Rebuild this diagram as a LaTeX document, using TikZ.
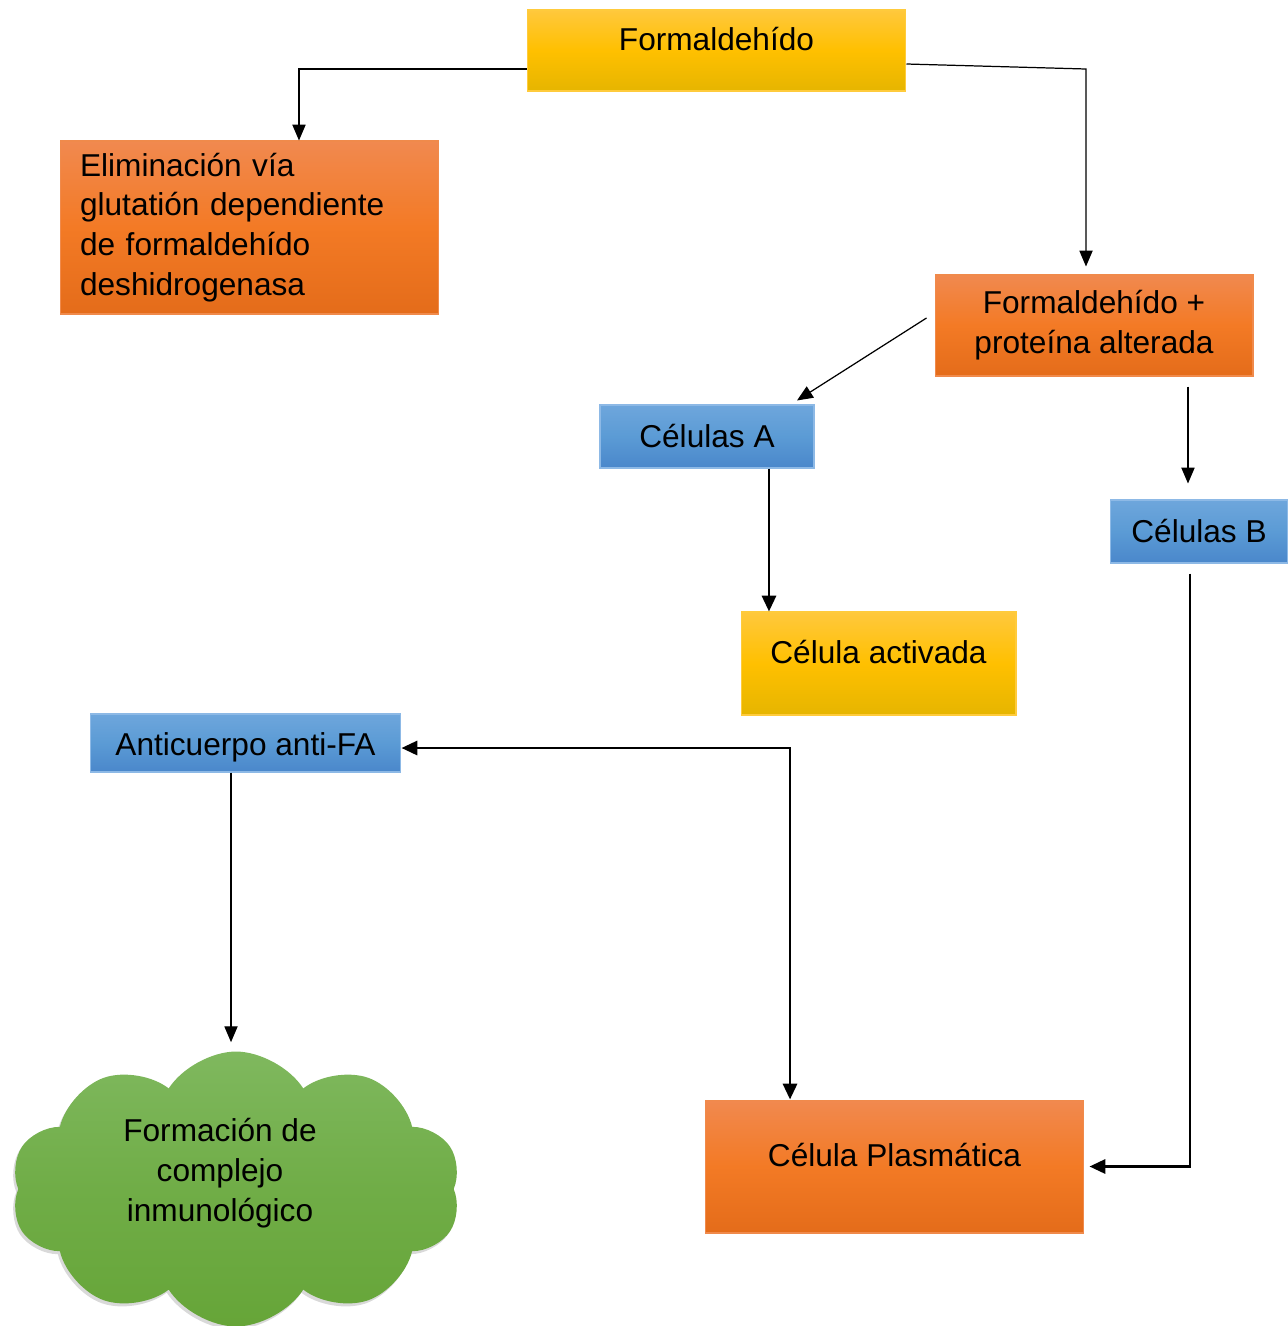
\documentclass[tikz,border=0pt]{standalone}
\usepackage{fontspec}
\setmainfont{Liberation Sans}
\usetikzlibrary{arrows.meta,shapes.symbols,shadows}

\definecolor{orTop}{HTML}{F1894F}
\definecolor{orMid}{HTML}{F37A25}
\definecolor{orBot}{HTML}{E46C1A}
\definecolor{orLine}{HTML}{F08A4B}
\definecolor{yeTop}{HTML}{FFC83D}
\definecolor{yeMid}{HTML}{FFC000}
\definecolor{yeBot}{HTML}{E6B500}
\definecolor{yeLine}{HTML}{FFCB3C}
\definecolor{blTop}{HTML}{6EA6DC}
\definecolor{blMid}{HTML}{5B9BD5}
\definecolor{blBot}{HTML}{4A87CB}
\definecolor{blLine}{HTML}{8DB9E6}
\definecolor{grTop}{HTML}{7FB85E}
\definecolor{grMid}{HTML}{70AD47}
\definecolor{grBot}{HTML}{66A538}

\begin{document}
\begin{tikzpicture}[x=0.02cm, y=-0.02cm,
    every node/.style={font=\fontsize{18}{22.7}\selectfont},
    orangebox/.style={draw=orLine, line width=0.6pt, top color=orTop, bottom color=orBot, middle color=orMid},
    yellowbox/.style={draw=yeLine, line width=0.6pt, top color=yeTop, bottom color=yeBot, middle color=yeMid},
    bluebox/.style={draw=blLine, line width=0.6pt, top color=blTop, bottom color=blBot, middle color=blMid},
    raised/.style={text height=13pt, text depth=13pt},
    thinarrow/.style={line width=0.7pt, -{Triangle[length=9pt,width=7.5pt]}},
    thickarrow/.style={line width=1.6pt, -{Triangle[length=9pt,width=8pt]}}]

    \useasboundingbox (0,0) rectangle (1288,1326);

    % Formaldehido
    \node[yellowbox, raised, minimum width=7.58cm, minimum height=1.62cm] (form) at (716.5,50.5) {Formaldehído};

    % Eliminacion
    \node[orangebox, align=left, text width=6.78cm, inner xsep=0.4cm, minimum height=3.46cm] (elim) at (249.5,227.5)
        {Eliminación vía\\glutatión dependiente\\de formaldehído\\deshidrogenasa};

    % Formaldehido + proteina
    \node[orangebox, align=center, minimum width=6.36cm, minimum height=2.02cm] (fp) at (1094,325.5)
        {Formaldehído +\\proteína alterada};

    % Celulas A y B
    \node[bluebox, minimum width=4.28cm, minimum height=1.26cm] (ca) at (707,436.5) {Células A};
    \node[bluebox, minimum width=3.56cm, minimum height=1.26cm] (cb) at (1199,531.5) {Células B};

    % Celula activada
    \node[yellowbox, raised, minimum width=5.5cm, minimum height=2.06cm] (act) at (878.5,663.5) {Célula activada};

    % Anticuerpo
    \node[bluebox, text height=17pt, text depth=3pt, minimum width=6.22cm, minimum height=1.16cm] (anti) at (245.5,743) {Anticuerpo anti-FA};

    % Celula plasmatica
    \node[orangebox, raised, minimum width=7.58cm, minimum height=2.66cm] (plas) at (894.5,1166.5) {Célula Plasmática};

    % Cloud
    \node[cloud, cloud puffs=10, cloud puff arc=115, aspect=1.65, inner sep=0pt,
        minimum width=9.0cm, minimum height=5.5cm, top color=grTop, bottom color=grBot, middle color=grMid,
        drop shadow={opacity=0.3, shadow xshift=-0.04cm, shadow yshift=-0.06cm}] (cloud) at (236,1189) {};
    \node[align=center] (cloudtxt) at (220,1173) {Formación de\\complejo\\inmunológico};

    % Arrows
    \draw[thinarrow] ([yshift=-0.37cm]form.west) -| ([xshift=0.99cm]elim.north);
    \coordinate (k2) at (1086,69);
    \draw[thinarrow, shorten >=0.16cm] ([yshift=-0.27cm]form.east) -- (k2) -- (k2 |- fp.north);
    \draw[thinarrow] ([xshift=-0.16cm,yshift=0.15cm]fp.west) -- ([xshift=1.8cm,yshift=0.08cm]ca.north);
    \draw[thinarrow, shorten <=0.2cm, shorten >=0.32cm] ([xshift=1.88cm]fp.south) -- ([xshift=1.88cm]fp.south |- cb.north);
    \draw[thickarrow] ([xshift=1.24cm]ca.south) -- ([xshift=1.24cm]ca.south |- act.north);
    \draw[thickarrow, shorten <=0.2cm, shorten >=0.1cm] ([xshift=-0.18cm]cb.south) |- (plas.east);
    \draw[thickarrow, {Triangle[length=9pt,width=8pt]}-{Triangle[length=9pt,width=8pt]}] ([xshift=-2.09cm]plas.north) |- ([yshift=-0.1cm]anti.east);
    \draw[thinarrow, shorten >=0.18cm] ([xshift=-0.29cm]anti.south) -- ([xshift=-0.29cm]anti.south |- cloud.north);
\end{tikzpicture}
\end{document}
